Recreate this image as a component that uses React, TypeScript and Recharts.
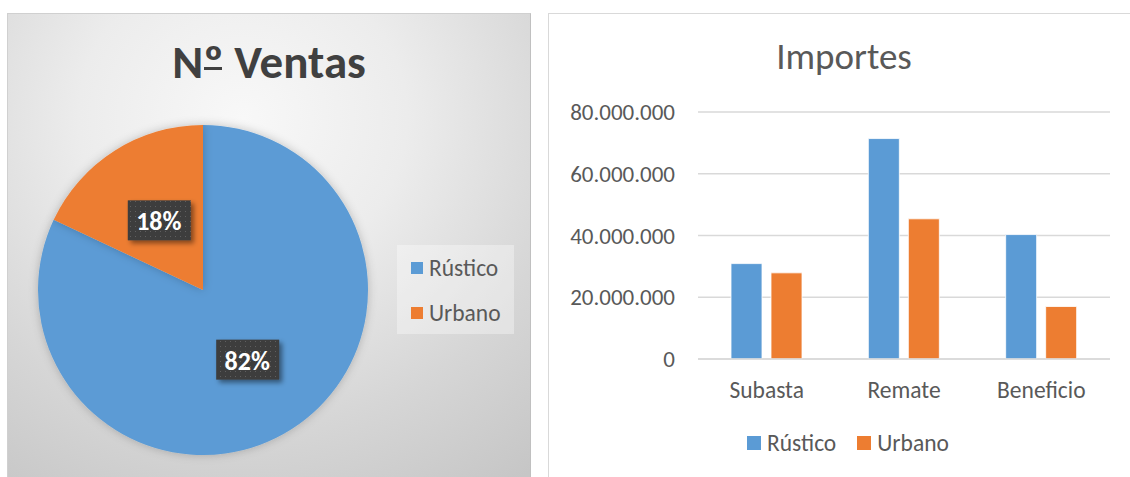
import React from "react"
import {
  Bar,
  BarChart,
  CartesianGrid,
  Cell,
  Pie,
  PieChart,
  XAxis,
  YAxis,
} from "recharts"

const tipos = ["Rústico", "Urbano"]
const ventas = [82, 18]
const categorias = ["Subasta", "Remate", "Beneficio"]
const rustico = [30900000, 71400000, 40300000]
const urbano = [27900000, 45400000, 17000000]
const yTicks = [0, 20000000, 40000000, 60000000, 80000000]

const colors = ["#5b9bd5", "#ed7d31"]
const font = "Calibri, Carlito, Lato, sans-serif"

const pieData = tipos.map((name, i) => ({ name, value: ventas[i] }))
const barData = categorias.map((cat, i) => ({
  cat,
  Rústico: rustico[i],
  Urbano: urbano[i],
}))

const fmt = (v: number) => String(v).replace(/\B(?=(\d{3})+(?!\d))/g, ".")

const RAD = Math.PI / 180

function PieLabel(props: any) {
  const { cx, cy, midAngle, outerRadius, percent } = props
  const r = outerRadius * 0.5
  const x = cx + r * Math.cos(-midAngle * RAD)
  const y = cy + r * Math.sin(-midAngle * RAD)
  return (
    <g>
      <rect
        x={x - 31}
        y={y - 20}
        width={63}
        height={40}
        fill="url(#dots)"
        filter="url(#lblShadow)"
      />
      <text
        x={x}
        y={y + 1}
        textAnchor="middle"
        dominantBaseline="central"
        fill="#fff"
        fontWeight="bold"
        fontSize={26}
        fontFamily={font}
      >
        {Math.round(percent * 100)}%
      </text>
    </g>
  )
}

// legend boxes are plain html, so they don't eat into the plot area
function Key({ items, size, gap }: { items: string[]; size: number; gap: number }) {
  return (
    <>
      {items.map((t, i) => (
        <div key={t} style={{ display: "flex", alignItems: "center", marginRight: gap, height: 45 }}>
          <span style={{ width: size, height: size, background: colors[i], display: "inline-block", marginRight: 6 }} />
          <span>{t}</span>
        </div>
      ))}
    </>
  )
}

export default function App() {
  const text = { fontFamily: font, color: "#595959" }
  return (
    <div style={{ position: "absolute", left: 0, top: 0, width: 1130, height: 477, background: "#fff", overflow: "hidden" }}>
      <svg width={0} height={0} style={{ position: "absolute" }}>
        <defs>
          <pattern id="dots" width={5} height={5} patternUnits="userSpaceOnUse">
            <rect width={5} height={5} fill="#3c3c3c" />
            <rect x={2} y={2} width={1} height={1} fill="#5e5e5e" />
          </pattern>
          <filter id="lblShadow" x="-30%" y="-30%" width="160%" height="170%">
            <feDropShadow dx={3} dy={3} stdDeviation={2.5} floodColor="#000" floodOpacity={0.45} />
          </filter>
          <filter id="pieShadow" x="-20%" y="-20%" width="140%" height="140%">
            <feDropShadow dx={0} dy={0} stdDeviation={5} floodColor="#000" floodOpacity={0.22} />
          </filter>
        </defs>
      </svg>

      {/* left panel: pie */}
      <div
        style={{
          position: "absolute",
          left: 7,
          top: 13,
          width: 522,
          height: 470,
          background:
            "radial-gradient(ellipse 90% 95% at 45% 22%, #f8f8f8 0%, #ececec 35%, #d6d6d6 70%, #c6c6c6 100%)",
          borderTop: "1px solid #d0d0d0",
          borderLeft: "1px solid #d0d0d0",
          borderRight: "1px solid #c0c0c0",
        }}
      >
        <div
          style={{
            position: "absolute",
            top: 19,
            width: "100%",
            textAlign: "center",
            fontFamily: font,
            fontSize: 47,
            fontWeight: "bold",
            color: "#404040",
          }}
        >
          N
          <span style={{ position: "relative" }}>
            º
            <span style={{ position: "absolute", left: 1, right: 2, bottom: 21, height: 3, background: "#404040" }} />
          </span>{" "}
          Ventas
        </div>
        <PieChart
          width={522}
          height={464}
          margin={{ top: 0, right: 0, bottom: 0, left: 0 }}
          style={{ position: "absolute", left: 0, top: 0 }}
        >
          <Pie
            data={pieData}
            dataKey="value"
            nameKey="name"
            cx={195}
            cy={276}
            outerRadius={165}
            startAngle={90}
            endAngle={-270}
            stroke="none"
            label={PieLabel}
            labelLine={false}
            isAnimationActive={false}
            style={{ filter: "url(#pieShadow)" }}
          >
            {pieData.map((d, i) => (
              <Cell key={d.name} fill={colors[i]} />
            ))}
          </Pie>
        </PieChart>
        <div
          style={{
            ...text,
            fontSize: 23.5,
            position: "absolute",
            left: 389,
            top: 231,
            width: 117,
            height: 89,
            background: "rgba(255,255,255,0.35)",
            boxSizing: "border-box",
            paddingLeft: 14,
          }}
        >
          <Key items={tipos} size={12} gap={0} />
        </div>
      </div>

      {/* right panel: bars */}
      <div
        style={{
          position: "absolute",
          left: 548,
          top: 13,
          width: 590,
          height: 470,
          background: "#fff",
          borderTop: "1px solid #d9d9d9",
          borderLeft: "1px solid #d9d9d9",
        }}
      >
        <div
          style={{
            ...text,
            position: "absolute",
            top: 20,
            left: 0,
            width: 590,
            textAlign: "center",
            fontSize: 37,
          }}
        >
          Importes
        </div>
        <BarChart
          width={582}
          height={464}
          data={barData}
          margin={{ top: 98, right: 21, bottom: 89, left: 0 }}
          barSize={31}
          barGap={9}
          style={{ position: "absolute", left: 0, top: 0 }}
        >
          <CartesianGrid vertical={false} stroke="#d9d9d9" strokeWidth={1.5} />
          <XAxis
            dataKey="cat"
            height={30}
            axisLine={{ stroke: "#d9d9d9", strokeWidth: 1.5 }}
            tickLine={false}
            tickSize={0}
            tickMargin={22}
            tick={{ fill: "#595959", fontSize: 23.5, fontFamily: font }}
          />
          <YAxis
            width={149}
            domain={[0, 80000000]}
            ticks={yTicks}
            tickFormatter={fmt}
            axisLine={false}
            tickLine={false}
            tickSize={0}
            tickMargin={23}
            tick={{ fill: "#595959", fontSize: 23, fontFamily: font }}
          />
          <Bar dataKey="Rústico" fill={colors[0]} stroke="#fff" strokeWidth={0.8} isAnimationActive={false} />
          <Bar dataKey="Urbano" fill={colors[1]} stroke="#fff" strokeWidth={0.8} isAnimationActive={false} />
        </BarChart>
        <div
          style={{
            ...text,
            fontSize: 23.5,
            position: "absolute",
            left: 198,
            top: 406,
            display: "flex",
          }}
        >
          <Key items={tipos} size={14} gap={21} />
        </div>
      </div>
    </div>
  )
}
